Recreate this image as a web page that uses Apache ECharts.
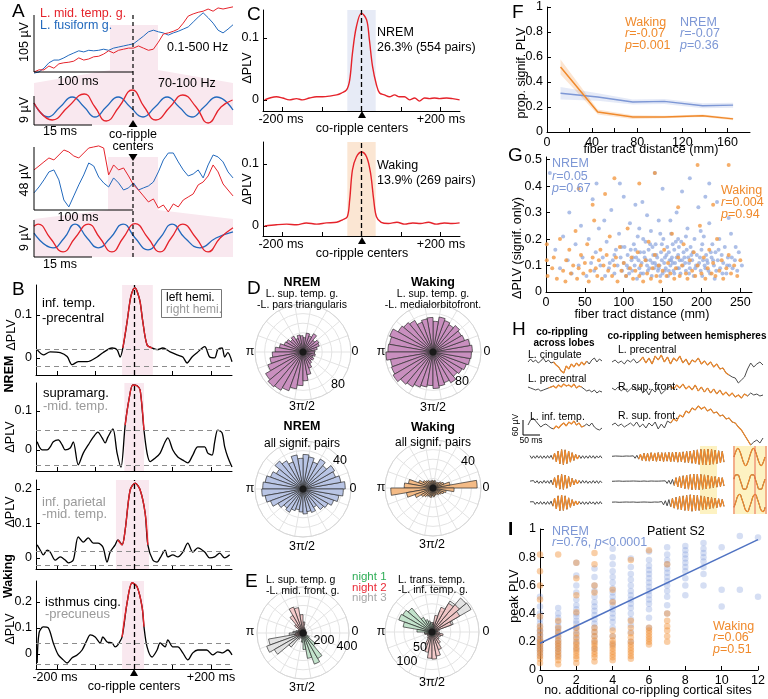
<!DOCTYPE html>
<html lang="en">
<head>
<meta charset="utf-8">
<title>Co-rippling PLV</title>
<script src="https://cdn.jsdelivr.net/npm/echarts@6/dist/echarts.min.js"></script>
<style>html,body{margin:0;padding:0;background:#fff}#main{width:768px;height:699px}</style>
</head>
<body>
<div id="main"></div>
<script type="text/javascript">
// ---------------- data ----------------
// A: broadband traces (uV), 41 samples from -100 to +100 ms
const aTopMid = [0,4,4,11,7,15,17,18,20,26,22,24,28,29,33,39,35,40,42,44,44,48,44,40,42,55,70,72,75,79,90,103,107,110,112,116,112,118,116,118,120];
const aTopFus = [-2,0,7,17,22,22,26,31,35,39,37,40,39,40,42,40,44,46,48,50,52,59,66,74,77,74,72,68,72,75,79,83,92,101,109,100,90,77,72,79,87];
const aBotMid = [30.5,33.5,36.6,39.6,38.1,41.9,45.7,44.2,41.1,39.6,43.4,47.2,48,48.8,47.2,26.7,34.3,30.5,32,25.9,19.1,15.2,10.7,6.1,8.4,1.5,3.8,-1.5,4.6,2.3,7.6,9.9,12.2,19.1,21.3,25.9,34.3,29,19.8,15.2,10.7];
const aBotFus = [13,17.5,22.9,29,30.5,22.9,7.6,2.3,10.7,19.1,26.7,35.8,33.5,25.1,20.6,17.5,24.4,20.6,15.2,16.8,20.6,15.2,16.8,18.3,21.3,29,38.1,43.4,43.4,36.6,30.5,25.9,27.4,30.5,24.4,34.3,41.9,40.4,36.6,29,24.4];
// A: 70-100 Hz filtered traces [ms, uV]
const aRipTopMid = [[-23.9,1.2],[-19.5,-3.9],[-15.7,0],[-11.8,3.9],[-9.2,0],[-6.5,-4.2],[-3.4,0],[-0.2,5.1],[2.7,0],[5.5,-3.9],[8.9,0],[12,3.6],[15.2,0],[18.1,-4.8],[21.2,0],[24,2.1]];
const aRipTopFus = [[-23.9,1.2],[-20.5,-3],[-17.6,0],[-14.7,3],[-11.8,0],[-9.2,-3],[-6.5,0],[-3.6,3],[-0.7,0],[2.4,-3],[5.3,0],[8.2,3],[11.1,0],[14.2,-3],[17.1,0],[20.2,3],[24.1,-0.9]];
const aRipBotMid = [[-23.9,2.9],[-22.9,3.4],[-20,0],[-16.9,-3.4],[-14,0],[-10.8,3.4],[-8,0],[-5.1,-3.4],[-2.4,0],[0.5,3.5],[3.6,0],[6.5,-3.4],[9.2,0],[12,3.4],[15.2,0],[18.1,-3.4],[21,0],[24.1,2.5]];
const aRipBotFus = [[-23.9,1.2],[-19.3,-2.4],[-16.6,0],[-14,3.4],[-11.1,0],[-8.4,-2.4],[-5.5,0],[-2.4,3.4],[0.5,0],[3.6,-2.9],[6.5,0],[9.4,3.4],[12.5,0],[16.1,-2.4],[20,0],[24.1,1.5]];

// B: example pairs, dPLV vs time (ms)
const bInfTemp = [[-252,.019],[-236,.007],[-218,.014],[-192,.012],[-174,.003],[-161,-.016],[-145,-.009],[-122,-.009],[-96,.002],[-81,.012],[-57,.023],[-44,.019],[-36,.002],[-29,.023],[-18,.084],[-9,.14],[-2,.16],[3,.163],[10,.15],[16,.13],[23,.084],[34,.03],[47,.023],[60,.019],[75,.023],[94,.014],[112,.007],[127,.002],[138,-.012],[151,.002],[164,.012],[184,.026],[197,.002],[210,0],[218,.019],[229,.023],[236,.002],[244,.012],[255,-.009]];
const bSupramarg = [[-252,.021],[-239,0],[-226,0],[-218,.008],[-210,.021],[-197,.026],[-187,.013],[-179,0],[-166,.005],[-158,.021],[-145,-.038],[-132,-.008],[-119,.013],[-106,.033],[-94,.046],[-83,.031],[-75,.018],[-68,.033],[-55,.054],[-44,-.008],[-34,-.044],[-23,.064],[-13,.13],[-3,.167],[8,.165],[16,.154],[26,.051],[34,-.008],[42,-.03],[55,-.021],[68,-.008],[81,.021],[88,.031],[101,0],[114,-.018],[127,-.026],[140,-.033],[153,-.013],[166,.008],[184,.008],[192,-.008],[203,-.013],[210,.021],[218,.051],[229,.044],[236,.008],[244,-.018],[255,-.044]];
const bInfPar = [[-252,.038],[-244,.023],[-236,.009],[-226,.023],[-218,.017],[-205,-.006],[-192,.003],[-179,-.006],[-171,-.014],[-158,-.006],[-145,.061],[-132,.046],[-119,.058],[-106,.043],[-94,.043],[-81,.032],[-70,-.012],[-62,.017],[-49,.038],[-42,.052],[-31,.038],[-23,.081],[-10,.197],[3,.217],[16,.197],[29,.13],[36,.038],[49,-.006],[60,-.012],[68,0],[81,.023],[88,.003],[101,.009],[114,.003],[127,.017],[140,.043],[153,.017],[166,.029],[184,.017],[197,0],[210,.003],[223,.014],[236,0],[249,.009]];
const bIsthmus = [[-252,-.035],[-247,.081],[-236,.104],[-223,.1],[-210,.042],[-197,-.004],[-184,-.023],[-174,-.035],[-161,-.015],[-148,-.004],[-135,.015],[-122,.054],[-114,.073],[-101,.065],[-88,.042],[-81,.065],[-70,.046],[-57,.042],[-49,.027],[-42,.035],[-31,.065],[-18,.196],[-5,.273],[8,.258],[21,.181],[26,.104],[34,.027],[47,-.012],[60,.015],[68,.042],[81,.027],[88,.054],[101,.027],[114,.027],[127,.004],[140,-.023],[153,.004],[166,.015],[189,.015],[205,-.004],[218,.008],[231,.004],[244,.015],[255,-.004]];

// C: grand averages
const cNrem = [[-246,0],[-233,.003],[-216,.005],[-200,.003],[-183,0],[-165,.002],[-150,0],[-132,.003],[-114,.005],[-99,.005],[-81,.006],[-63,.008],[-51,.011],[-38,.016],[-30,.032],[-23,.075],[-13,.118],[0,.14],[13,.129],[20,.097],[28,.054],[38,.024],[46,.011],[58,.008],[71,.005],[84,.008],[96,.005],[109,.005],[122,0],[135,.003],[147,-.002],[160,.003],[173,.002],[185,.003],[198,.002],[216,.003],[231,.002],[249,0]];
const cWake = [[-246,0],[-216,.002],[-190,.003],[-165,.002],[-140,.005],[-114,.003],[-89,.005],[-63,.006],[-48,.01],[-36,.015],[-30,.042],[-23,.09],[-13,.111],[0,.119],[13,.111],[23,.085],[31,.042],[38,.015],[50,.006],[68,.004],[90,.006],[110,.003],[130,.005],[150,.004],[170,.006],[190,.003],[210,.005],[230,.004],[249,.005]];

// D/E: phase histograms, 10 degree bins
const phaseBins = ['0','10','20','30','40','50','60','70','80','90','100','110','120','130','140','150','160','170','180','190','200','210','220','230','240','250','260','270','280','290','300','310','320','330','340','350'];
const dNremPair = [25,30,36,38,32,44,36,40,30,34,36,30,38,34,40,42,50,58,64,70,78,90,95,92,86,78,70,60,48,36,28,24,26,22,26,24];
const dWakePair = [82,78,70,68,72,66,70,74,64,72,70,66,76,80,84,96,92,94,98,90,92,96,88,84,78,74,70,76,72,68,74,66,70,74,78,80];
const dNremAll = [44,40,36,38,32,36,30,34,36,32,36,30,34,38,32,36,40,42,43,40,36,30,26,28,24,22,24,26,24,26,22,28,30,34,38,42];
const dWakeAll = [46,18,12,10,8,7,6,8,7,8,7,8,9,10,12,16,26,30,44,28,20,14,12,10,9,10,8,9,8,7,8,9,10,12,14,22];
const eSTG_n3 = [30,25,20,25,30,20,25,30,35,30,25,30,35,40,50,60,80,110,150,380,420,360,200,80,40,30,25,20,25,30,20,25,30,20,25,30];
const eSTG_n2 = [40,35,30,40,35,45,50,60,120,200,280,300,220,120,60,50,45,60,80,90,70,50,40,35,30,40,35,30,40,35,30,35,40,30,35,40];
const eSTG_n1 = [30,25,30,35,30,25,30,35,30,25,30,35,30,25,30,35,30,25,30,35,30,25,30,35,40,60,100,180,280,360,320,180,80,40,30,25];
const eTT_n3 = [8,12,60,120,118,95,60,25,10,6,5,5,5,5,5,5,5,5,5,5,5,5,5,5,5,5,5,5,5,5,5,5,5,5,5,6];
const eTT_n2 = [15,20,55,85,95,88,70,45,25,15,10,10,10,10,10,10,10,15,20,20,15,15,15,20,35,55,70,72,65,50,35,25,20,25,30,20];
const eTT_n1 = [10,10,10,10,10,10,10,15,20,25,30,35,45,83,90,94,78,40,20,12,10,10,10,10,10,10,10,10,10,10,10,10,10,10,10,10];

// F: proportion significant vs fiber distance
const fDist = [12,45,76,104,138,165];
const fNrem = [0.31,0.28,0.24,0.245,0.21,0.215];
const fNremCI = [0.05,0.03,0.02,0.02,0.02,0.02];
const fWake = [0.52,0.16,0.12,0.12,0.13,0.105];
const fWakeCI = [0.06,0.02,0.015,0.01,0.01,0.01];

// G: dPLV of significant pairs vs distance
const gNrem = [[12,0.16],[18,0.09],[22,0.21],[28,0.12],[33,0.07],[38,0.18],[42,0.1],[47,0.13],[52,0.06],[55,0.2],[58,0.11],[62,0.08],[64,0.15],[68,0.24],[70,0.1],[73,0.13],[76,0.06],[78,0.19],[81,0.09],[84,0.31],[86,0.12],[88,0.07],[90,0.16],[92,0.1],[94,0.22],[96,0.13],[98,0.08],[100,0.11],[101,0.17],[103,0.06],[105,0.14],[106,0.09],[108,0.26],[110,0.12],[111,0.08],[113,0.18],[114,0.1],[116,0.13],[117,0.05],[118,0.21],[120,0.09],[121,0.15],[123,0.11],[124,0.34],[125,0.07],[127,0.13],[128,0.19],[130,0.1],[131,0.08],[132,0.16],[134,0.12],[135,0.23],[136,0.06],[138,0.14],[139,0.09],[140,0.11],[141,0.18],[143,0.13],[144,0.08],[145,0.27],[146,0.1],[148,0.15],[149,0.12],[150,0.07],[151,0.2],[152,0.11],[154,0.09],[155,0.14],[156,0.17],[157,0.06],[159,0.12],[160,0.1],[161,0.22],[162,0.13],[164,0.08],[165,0.16],[166,0.11],[168,0.3],[169,0.09],[170,0.14],[172,0.12],[173,0.07],[174,0.19],[176,0.1],[177,0.15],[179,0.11],[180,0.08],[182,0.24],[183,0.13],[185,0.09],[186,0.17],[188,0.12],[190,0.06],[191,0.2],[193,0.1],[194,0.14],[196,0.32],[197,0.11],[199,0.08],[200,0.16],[202,0.12],[203,0.21],[205,0.09],[206,0.14],[208,0.11],[210,0.26],[211,0.07],[213,0.13],[214,0.18],[216,0.1],[218,0.15],[219,0.08],[221,0.12],[223,0.2],[224,0.09],[226,0.14],[228,0.11],[230,0.17],[232,0.07],[234,0.13],[236,0.1],[238,0.22],[240,0.09],[243,0.12],[246,0.08],[248,0.15],[252,0.1],[60,0.35],[95,0.41],[140,0.45],[175,0.38],[205,0.36],[130,0.29],[160,0.27],[115,0.33],[185,0.43],[220,0.34],[75,0.27],[45,0.25],[30,0.3],[150,0.39],[100,0.36],[210,0.41],[235,0.28],[120,0.24],[170,0.2],[5,0.45],[65,0.41],[107,0.07],[119,0.12],[126,0.15],[133,0.09],[137,0.17],[142,0.1],[147,0.06],[153,0.13],[158,0.08],[163,0.11],[167,0.19],[171,0.09],[178,0.13],[184,0.07],[189,0.15],[195,0.1],[201,0.06],[207,0.12],[212,0.15],[217,0.05],[104,0.1],[109,0.16],[112,0.13],[122,0.07],[129,0.12],[134,0.18],[137,0.11],[142,0.14],[145,0.09],[149,0.18],[153,0.08],[158,0.15],[161,0.12],[165,0.07],[168,0.13],[171,0.17],[175,0.12],[181,0.16],[184,0.11],[187,0.14],[192,0.09],[198,0.13],[201,0.18],[204,0.1],[209,0.08],[215,0.12],[222,0.16],[227,0.07],[233,0.1],[239,0.13],[125,0.2],[147,0.22],[163,0.18],[180,0.21],[199,0.23],[88,0.14],[82,0.11],[97,0.17],[115,0.16],[244,0.17]];
const gWake = [[1,0.12],[1,0.18],[2,0.06],[8,0.09],[10,0.13],[14,0.05],[18,0.2],[22,0.08],[25,0.04],[26,0.12],[30,0.16],[32,0.07],[35,0.1],[38,0.23],[40,0.05],[42,0.09],[45,0.14],[48,0.07],[50,0.11],[53,0.18],[55,0.04],[57,0.08],[60,0.13],[62,0.27],[64,0.09],[66,0.06],[68,0.12],[70,0.16],[72,0.05],[74,0.1],[76,0.37],[78,0.14],[80,0.08],[82,0.21],[85,0.06],[88,0.1],[90,0.13],[92,0.04],[95,0.17],[97,0.08],[100,0.11],[103,0.06],[105,0.24],[108,0.09],[110,0.13],[112,0.05],[115,0.08],[118,0.15],[120,0.06],[122,0.1],[125,0.04],[128,0.12],[130,0.07],[132,0.19],[135,0.05],[137,0.09],[140,0.14],[142,0.06],[145,0.1],[147,0.04],[150,0.08],[152,0.16],[155,0.06],[157,0.11],[160,0.07],[162,0.22],[165,0.05],[167,0.09],[170,0.13],[172,0.06],[175,0.1],[177,0.18],[180,0.07],[182,0.05],[185,0.12],[188,0.08],[190,0.15],[192,0.06],[195,0.1],[198,0.25],[200,0.07],[203,0.13],[205,0.05],[208,0.09],[210,0.16],[213,0.07],[215,0.11],[218,0.06],[220,0.2],[223,0.08],[226,0.12],[228,0.05],[232,0.09],[235,0.14],[238,0.07],[242,0.1],[246,0.06],[250,0.12],[88,0.43],[120,0.41],[140,0.45],[195,0.48],[235,0.48],[170,0.32],[60,0.33],[215,0.33],[42,0.39]];

// H: example traces (uV) and ripple-band traces, with co-ripple index ranges
const hLeft1 = [0,9,0,6,-3,3,12,0,6,-3,0,-9,-15,-27,-33,-12,-21,-6,-15,-3,-12,0,-9,3,-6,6,12,0,9,3];
const hLeft2 = [3,0,-3,-6,-3,-9,-6,-3,0,3,6,0,9,3,12,6,9,3,12,0,6,3,-3,-9,-6,-12,-6,-15,-9,-12];
const hLeft3 = [0,15,21,12,3,-6,0,3,-3,-9,-12,-3,-9,0,6,-3,9,3,12,0,6,-6,-3,3,-3,6,-6,-12,-15,-9];
const hRight1 = [0,6,-3,3,-6,6,0,9,-3,3,15,-3,12,-6,18,6,21,0,15,-6,12,3,18,-3,9,-9,6,0,12,-6,3,-9,0,-15,-6,-21,-18,-33,-39,-45,-48,-63,-54,-45,-21,-3,-15,-6,0,-9];
const hRight2 = [6,0,9,-3,6,-6,3,12,-3,9,-9,0,-15,3,-6,9,-12,-3,6,12,3,15,6,18,3,12,0,15,-3,9,-6,6,-9,3,-12,0,-15,-6,-18,-9,-21,-15,-24,-12,-18,-9,-15,-12,-18,-15];
const hRight3 = [0,6,-3,3,-6,0,6,-3,9,-6,3,-9,6,-3,9,-12,3,-9,12,6,18,12,30,24,42,36,51,45,57,48,54,42,48,36,39,27,30,18,21,9,6,-6,-15,-30,-45,-60,-51,-45,-54,-39];
const fL1 = [1,-1,0.8,-0.9,1,-0.8,0.9,-1,0.8,-0.9,1,-0.8,1.2,-1.6,2.6,-3.4,4.2,-4.8,5.2,-5.4,5,-4.6,4.2,-3.6,3,-2.4,1.8,-1.4,1.1,-1,0.9,-1,0.8,-0.9,1,-0.8,0.9,-1,0.8,-0.7,0.9,-0.8];
const fL2 = [0.6,-0.8,1,-0.7,0.9,-1,0.7,-0.9,1.1,-0.8,0.9,-1,1.4,-2,3,-3.8,4.6,-5,5.4,-5.2,4.8,-4.4,3.8,-3.2,2.6,-2,1.6,-1.2,1,-0.9,1.1,-0.8,0.9,-1,0.7,-0.9,1,-0.8,0.9,-1,0.8,-0.6];
const fL3 = [0.8,-0.6,0.9,-1,0.7,-0.8,1,-0.9,0.8,-1,1,-0.9,1.3,-2.2,3.4,-4.2,5,-5.4,5.6,-5.2,5,-4.4,3.6,-3,2.4,-1.8,1.4,-1.2,1,-0.8,0.9,-1,0.8,-0.9,1,-0.7,0.8,-1,0.9,-0.8,1,-0.7];
const fR1 = [0.5,-0.6,0.7,-0.5,0.6,-0.7,0.5,-0.6,0.7,-0.5,0.6,-0.6,0.8,-0.9,1.2,-1.5,2,-2.4,2.6,-2.8,2.6,-2.9,3,-2.7,2.8,-3,3.1,-2.8,3,-3.2,3,-2.9,3.2,-3.4,3.3,-3.1,3.4,-3.6,3.5,-3.3,3.6,-3.8,3.9,-4,4.2,-4.4,4.6,-4.8,5,-5.2,5.4,-5.5,5.6,-5.6,5.5,-5.4,5.3,-5,4.8,-4.6,4.4,-4.2,4,-3.6];
const fR2 = [0.5,-0.6,0.6,-0.5,0.7,-0.6,0.5,-0.7,0.6,-0.5,0.6,-0.6,0.7,-0.5,0.6,-0.7,0.5,-0.6,0.7,-0.6,0.5,-0.6,0.7,-0.5,0.6,-0.7,0.6,-0.5,0.7,-0.6,0.8,-1,1.2,-1.5,1.8,-2.4,3,-3.4,3.8,-4.2,4.4,-4.6,4.8,-5,5.2,-5.4,5.6,-5.6,5.5,-5.4,5.3,-5.1,5,-4.8,4.6,-4.4,4.2,-4,3.8,-3.6,3.4,-3.2,3,-2.8];
const fR3 = [0.6,-0.5,0.7,-0.6,0.5,-0.7,0.6,-0.5,0.7,-0.6,0.6,-0.5,0.7,-0.6,0.5,-0.7,0.6,-0.6,0.7,-0.5,0.6,-0.7,0.5,-0.6,0.7,-0.6,0.6,-0.8,1,-1.3,1.6,-2,2.4,-2.8,3.2,-3.6,4,-4.4,4.6,-4.8,5,-5.2,5.4,-5.6,5.8,-5.8,5.6,-5.5,5.4,-5.2,5,-4.8,4.6,-4.4,4.2,-4,3.8,-3.6,3.4,-3.2,3,-2.8,2.6,-2.4];
const fBox1 = [0,4,6,4,0,-4,-6,-4,0,4,6,4,0,-4,-6,-4,0];
const fBox2 = [2,5,5,2,-2,-5,-5,-2,2,5,5,2,-2,-5,-5,-2,2];
const fBox3 = [-3,1,5,6,3,-1,-5,-6,-3,1,5,6,3,-1,-5,-6,-3];

// I: peak PLV per number of additional co-rippling sites (index = sites)
const iNremCols = [
  [0.1,0.12,0.14,0.15,0.17,0.18,0.2,0.21,0.22,0.24,0.25,0.27,0.28,0.3,0.33,0.36,0.4,0.45,0.52],
  [0.1,0.13,0.15,0.17,0.19,0.21,0.23,0.25,0.27,0.29,0.31,0.34,0.37,0.4,0.44],
  [0.15,0.19,0.22,0.25,0.28,0.3,0.33,0.35,0.38,0.4,0.43,0.46,0.5,0.55,0.6,0.67,0.76],
  [0.15,0.2,0.24,0.27,0.3,0.33,0.36,0.39,0.42,0.45,0.48,0.52,0.56,0.6,0.66,0.72],
  [0.18,0.24,0.3,0.34,0.37,0.4,0.43,0.46,0.49,0.52,0.55,0.58,0.62,0.66,0.7,0.75,0.8,0.86],
  [0.2,0.27,0.32,0.36,0.4,0.44,0.47,0.5,0.53,0.56,0.6,0.64,0.68,0.73,0.79],
  [0.3,0.37,0.43,0.47,0.5,0.53,0.56,0.59,0.62,0.65,0.68,0.71,0.74,0.78,0.84],
  [0.4,0.46,0.52,0.56,0.6,0.63,0.66,0.69,0.72,0.75,0.78,0.82,0.87],
  [0.53,0.6,0.65,0.7,0.73,0.76,0.79,0.82,0.85,0.88],
  [0.6,0.68,0.73,0.77,0.8,0.83,0.86,0.9],
  [0.45,0.57,0.87],
  [0.57,0.95],
  [0.52,0.94]
];
const iWakeCols = [
  [0.05,0.08,0.1,0.12,0.14,0.16,0.18,0.2,0.22,0.25,0.28,0.31,0.38,0.5,0.6,0.7,0.82],
  [0.04,0.07,0.09,0.11,0.13,0.15,0.17,0.19,0.21,0.24,0.27,0.3,0.35,0.82],
  [0.05,0.08,0.1,0.12,0.14,0.16,0.18,0.2,0.23,0.26,0.3,0.41,0.53,0.65,0.76],
  [0.06,0.09,0.11,0.13,0.15,0.17,0.19,0.21,0.24,0.27,0.3,0.55,0.6,0.75,0.83],
  [0.07,0.09,0.11,0.13,0.15,0.17,0.19,0.21,0.24,0.28,0.48,0.57],
  [0.08,0.1,0.12,0.14,0.16,0.18,0.2,0.23,0.26,0.3,0.35,0.78],
  [0.18,0.2,0.22,0.24,0.26,0.28,0.3,0.85],
  [0.2,0.24,0.28,0.31,0.35,0.4,0.75]
];
const iNremFit = [[0,0.19],[12,0.925]];

// ---------------- build ----------------
const FONT = '"Liberation Sans", Arial, Helvetica, sans-serif';
const RED = '#e5232b', BLUE = '#2269bd', PINK = '#f9e8ef', ORANGE = '#f08a2c', LBLUE = '#7d97d5', TGRAY = '#9a9a9a';

let grids = [], xAxes = [], yAxes = [], series = [], polars = [], angleAxes = [], radiusAxes = [], gfx = [];

function addGrid(left, top, width, height, xa, ya) {
    const i = grids.length;
    grids.push({left: left, top: top, width: width, height: height});
    xAxes.push(Object.assign({gridIndex: i}, xa));
    yAxes.push(Object.assign({gridIndex: i}, ya));
    return i;
}
function hid(min, max) { return {type: 'value', show: false, min: min, max: max}; }
function axV(min, max, ticks, labels) {
    return {
        type: 'value', min: min, max: max,
        axisLine: {show: true, onZero: false, lineStyle: {color: '#000', width: 1}},
        axisTick: ticks ? {show: true, inside: true, length: 4, customValues: ticks, lineStyle: {color: '#000'}} : {show: false},
        axisLabel: labels ? {show: true, customValues: labels, color: '#000', fontSize: 12.5, fontFamily: FONT, margin: 4} : {show: false},
        splitLine: {show: false}
    };
}
function addLine(gi, data, color, w, extra) {
    series.push(Object.assign({type: 'line', xAxisIndex: gi, yAxisIndex: gi, data: data, symbol: 'none',
        lineStyle: {color: color, width: w}, silent: true, clip: false, z: 3}, extra || {}));
}
const idx = arr => arr.map((v, i) => [i, v]);

function T(x, y, s, o) {
    o = o || {};
    const size = o.size || 12.5, col = o.fill || '#000', al = o.align || 'left';
    const st = {text: s, fill: col, font: (o.bold ? 'bold ' : '') + size + 'px ' + FONT,
        align: al, verticalAlign: 'middle', textAlign: al, textVerticalAlign: 'middle'};
    if (s.indexOf('{i|') >= 0) st.rich = {i: {fontStyle: 'italic', fontSize: size, fontFamily: FONT, fill: col}};
    gfx.push({type: 'text', x: x, y: y, rotation: o.rot || 0, z: 50, silent: true, style: st});
}
function V(x, y, s, o) { T(x, y, s, Object.assign({align: 'center', rot: Math.PI / 2}, o || {})); }
function L(x1, y1, x2, y2, o) {
    o = o || {};
    gfx.push({type: 'line', z: o.z || 5, silent: true, shape: {x1: x1, y1: y1, x2: x2, y2: y2},
        style: {stroke: o.color || '#000', lineWidth: o.w || 1, lineDash: o.dash || null}});
}
function P(points, fill, z) { gfx.push({type: 'polygon', z: z || 0, silent: true, shape: {points: points}, style: {fill: fill}}); }

// ---- A ----
P([[110,25],[158,25],[158,70],[233,83],[233,125],[34,125],[34,83],[110,70]], PINK, -1);
P([[108,157],[158,157],[158,210],[233,219],[233,257],[34,257],[34,219],[108,210]], PINK, -1);
const gA1 = addGrid(34, 5, 199, 67, hid(0, 40), hid(0, 123.4));
addLine(gA1, idx(aTopFus), BLUE, 1);
addLine(gA1, idx(aTopMid), RED, 1);
const gA2 = addGrid(34, 86, 199, 40, hid(-23.9, 24.1), hid(-5.7, 6.3));
addLine(gA2, aRipTopFus, BLUE, 1.3, {smooth: 0.5});
addLine(gA2, aRipTopMid, RED, 1.3, {smooth: 0.5});
const gA3 = addGrid(34, 140, 199, 76, hid(0, 40), hid(-4.6, 53.3));
addLine(gA3, idx(aBotFus), BLUE, 1);
addLine(gA3, idx(aBotMid), RED, 1);
const gA4 = addGrid(34, 218, 199, 40, hid(-23.9, 24.1), hid(-4.9, 4.9));
addLine(gA4, aRipBotFus, BLUE, 1.3, {smooth: 0.5});
addLine(gA4, aRipBotMid, RED, 1.3, {smooth: 0.5});
L(34,15,34,72); L(34,72,133,72); L(34,96,34,125); L(34,125,92,125);
L(34,147,34,210); L(34,210,133,210); L(34,220,34,257); L(34,257,92,257);
L(133,15,133,119,{dash:[4,3], w:1.2}); L(133,162,133,260,{dash:[4,3], w:1.2});
P([[133,120],[128.5,127],[137.5,127]], '#000', 5);
P([[128.5,154],[137.5,154],[133,161]], '#000', 5);
T(12,12,'A',{size:19}); T(40,14,'L. mid. temp. g.',{fill:RED}); T(40,26,'L. fusiform g.',{fill:BLUE});
V(25,42,'105 µV'); T(78,82,'100 ms',{align:'center'}); T(167,48,'0.1-500 Hz'); T(158,84,'70-100 Hz');
V(25,110,'9 µV'); T(60,132,'15 ms',{align:'center'});
T(133,135,'co-ripple',{align:'center'}); T(133,147,'centers',{align:'center'});
V(25,180,'48 µV'); T(78,218,'100 ms',{align:'center'}); V(25,238,'9 µV'); T(60,265,'15 ms',{align:'center'});

// ---- B ----
function bPanel(top, height, ymin, ymax, ylabels, trace, lo, hi, thr) {
    const gi = addGrid(36, top, 196, height, axV(-255, 255, [-200,-100,0,100,200], null), axV(ymin, ymax, ylabels, ylabels));
    const dash = {color: '#8c8c8c', type: [5, 4], width: 1};
    series.push({type: 'line', xAxisIndex: gi, yAxisIndex: gi, data: trace, symbol: 'none', smooth: 0.3,
        lineStyle: {color: '#000', width: 1.3}, silent: true, z: 3,
        markArea: {silent: true, itemStyle: {color: PINK}, data: [[{xAxis: lo}, {xAxis: hi}]]},
        markLine: {silent: true, symbol: 'none', label: {show: false}, data: [
            {yAxis: thr[0], lineStyle: dash}, {yAxis: thr[1], lineStyle: dash},
            {xAxis: 0, lineStyle: {color: '#000', type: [5, 3], width: 1.3}}]}});
    series.push({type: 'line', xAxisIndex: gi, yAxisIndex: gi, data: trace.filter(p => p[0] >= lo && p[0] <= hi),
        symbol: 'none', smooth: 0.3, lineStyle: {color: RED, width: 1.4}, silent: true, z: 4});
}
bPanel(285, 90, -0.04, 0.17, [0, 0.1], bInfTemp, -31, 49, [0.021, -0.021]);
bPanel(383, 88, -0.054, 0.172, [0, 0.1], bSupramarg, -25, 26, [0.046, -0.044]);
bPanel(480, 89, -0.032, 0.226, [0, 0.1, 0.2], bInfPar, -47, 39, [0.023, -0.017]);
bPanel(581, 88, -0.058, 0.28, [0, 0.1, 0.2], bIsthmus, -31, 26, [0.038, -0.038]);
T(12,290,'B',{size:19});
V(12,335,'ΔPLV'); V(11,437,'ΔPLV'); V(11,512,'ΔPLV'); V(11,629,'ΔPLV');
V(10,374,'NREM',{bold:true}); V(9,576,'Waking',{bold:true});
T(42,303,'inf. temp.',{size:13}); T(42,318,'-precentral',{size:13});
T(43,393,'supramarg.',{size:13}); T(43,406,'-mid. temp.',{size:13, fill:TGRAY});
T(42,502,'inf. parietal',{size:13, fill:TGRAY}); T(42,514,'-mid. temp.',{size:13, fill:TGRAY});
T(45,602,'isthmus cing.',{size:13}); T(45,614,'-precuneus',{size:13, fill:TGRAY});
gfx.push({type:'rect', z:6, silent:true, shape:{x:161.5, y:289.5, width:60, height:28}, style:{fill:'#fff', stroke:'#777', lineWidth:1}});
T(166,298,'left hemi.',{size:12}); T(166,310,'right hemi.',{size:12, fill:TGRAY});
gfx[gfx.length-1].z = 51; gfx[gfx.length-2].z = 51;
T(55,678,'-200 ms',{align:'center'}); T(211,678,'+200 ms',{align:'center'});
T(134,687,'co-ripple centers',{align:'center'});
P([[134,669],[130,676],[138,676]], '#000', 5);

// ---- C ----
function cPanel(top, height, ymin, ymax, trace, shade) {
    const gi = addGrid(263, top, 197, height, axV(-250, 250, [-200,-100,0,100,200], null), axV(ymin, ymax, [0, 0.1], [0, 0.1]));
    series.push({type: 'line', xAxisIndex: gi, yAxisIndex: gi, data: trace, symbol: 'none', smooth: 0.35,
        lineStyle: {color: RED, width: 1.4}, silent: true, z: 3,
        markArea: {silent: true, itemStyle: {color: shade}, data: [[{xAxis: -36}, {xAxis: 36}]]},
        markLine: {silent: true, symbol: 'none', label: {show: false},
            data: [{xAxis: 0, lineStyle: {color: '#000', type: [5, 3], width: 1.3}}]}});
}
cPanel(10, 101, -0.018, 0.145, cNrem, '#e7ebf6');
cPanel(142, 94, -0.016, 0.135, cWake, '#fbe6d3');
T(247,15,'C',{size:19});
V(248,68,'ΔPLV'); V(248,189,'ΔPLV');
T(377,33,'NREM'); T(377,48,'26.3% (554 pairs)');
T(377,166,'Waking'); T(377,181,'13.9% (269 pairs)');
T(281,120,'-200 ms',{align:'center'}); T(441,120,'+200 ms',{align:'center'}); T(362,129,'co-ripple centers',{align:'center'});
T(281,245,'-200 ms',{align:'center'}); T(441,245,'+200 ms',{align:'center'}); T(362,254,'co-ripple centers',{align:'center'});
P([[362,111],[358,118],[366,118]], '#000', 5);
P([[362,237],[358,244],[366,244]], '#000', 5);

// ---- D / E polar histograms ----
function addPolar(cx, cy, r, max, step) {
    const i = polars.length;
    polars.push({center: [cx, cy], radius: r});
    angleAxes.push({polarIndex: i, type: 'category', data: phaseBins, startAngle: 0, clockwise: false, boundaryGap: true,
        axisLine: {show: true, lineStyle: {color: '#d6d6d6'}}, axisTick: {show: false}, axisLabel: {show: false},
        splitLine: {show: true, interval: 2, lineStyle: {color: '#e3e3e3', width: 1}}});
    radiusAxes.push({polarIndex: i, type: 'value', min: 0, max: max, interval: step,
        axisLine: {show: false}, axisTick: {show: false}, axisLabel: {show: false},
        splitLine: {show: true, lineStyle: {color: '#e3e3e3', width: 1}}});
    gfx.push({type: 'circle', z: 60, silent: true, shape: {cx: cx, cy: cy, r: 3.5}, style: {fill: '#1a1a1a'}});
    return i;
}
function rose(pi, vals, color) {
    series.push({type: 'bar', coordinateSystem: 'polar', polarIndex: pi, data: vals, barCategoryGap: '0%', barGap: '-100%',
        itemStyle: {color: color, borderColor: '#2e2e2e', borderWidth: 0.7}, silent: true, z: 3});
}
rose(addPolar(303, 352, 48, 100, 20), dNremPair, '#c98fbf');
rose(addPolar(433, 352, 48, 100, 20), dWakePair, '#c98fbf');
rose(addPolar(303, 489, 48, 50, 10), dNremAll, '#b9c5e5');
rose(addPolar(433, 488, 48, 50, 10), dWakeAll, '#f4bb86');
const pE1 = addPolar(303, 633, 46, 500, 100);
rose(pE1, eSTG_n3, 'rgba(222,222,222,0.85)'); rose(pE1, eSTG_n2, 'rgba(242,190,190,0.8)'); rose(pE1, eSTG_n1, 'rgba(185,222,195,0.85)');
const pE2 = addPolar(432, 632, 47, 125, 25);
rose(pE2, eTT_n3, 'rgba(222,222,222,0.85)'); rose(pE2, eTT_n2, 'rgba(242,190,190,0.8)'); rose(pE2, eTT_n1, 'rgba(185,222,195,0.85)');

T(247,289,'D',{size:19});
T(302,283,'NREM',{bold:true, align:'center'}); T(302,294,'L. sup. temp. g.',{size:10.5, align:'center'}); T(302,305,'-L. pars triangularis',{size:10.5, align:'center'});
T(433,283,'Waking',{bold:true, align:'center'}); T(433,294,'L. sup. temp. g.',{size:10.5, align:'center'}); T(433,305,'-L. medialorbitofront.',{size:10.5, align:'center'});
T(250,352,'π',{align:'center'}); T(355,352,'0',{align:'center'}); T(338,385,'80',{align:'center'}); T(302,407,'3π/2',{align:'center'});
T(381,352,'π',{align:'center'}); T(487,352,'0',{align:'center'}); T(462,382,'80',{align:'center'}); T(433,408,'3π/2',{align:'center'});
T(302,427,'NREM',{bold:true, align:'center'}); T(302,444,'all signif. pairs',{size:12, align:'center'});
T(433,428,'Waking',{bold:true, align:'center'}); T(433,443,'all signif. pairs',{size:12, align:'center'});
T(250,489,'π',{align:'center'}); T(353,489,'0',{align:'center'}); T(340,461,'40',{align:'center'}); T(302,547,'3π/2',{align:'center'});
T(381,488,'π',{align:'center'}); T(486,488,'0',{align:'center'}); T(468,462,'40',{align:'center'}); T(432,545,'3π/2',{align:'center'});
T(245,582,'E',{size:19});
T(266,580,'L. sup. temp. g',{size:10.5}); T(266,591,'-L. mid. front. g.',{size:10.5});
T(352,577,'night 1',{size:11.5, fill:'#2fae57'}); T(352,588,'night 2',{size:11.5, fill:'#ea2a36'}); T(352,598,'night 3',{size:11.5, fill:'#a8a8a8'});
T(250,632,'π',{align:'center'}); T(355,632,'0',{align:'center'}); T(324,641,'200',{align:'center'}); T(347,647,'400',{align:'center'}); T(302,688,'3π/2',{align:'center'});
T(398,580,'L. trans. temp.',{size:10.5}); T(398,590,'-L. inf. temp. g.',{size:10.5});
T(381,632,'π',{align:'center'}); T(486,632,'0',{align:'center'}); T(420,648,'50',{align:'center'}); T(407,662,'100',{align:'center'}); T(432,683,'3π/2',{align:'center'});

// ---- F ----
const gF = addGrid(547, 7, 203, 125, axV(0, 180, [0,20,40,60,80,100,120,140,160], [0,40,80,120,160]), axV(0, 1, [0,0.2,0.4,0.6,0.8,1], [0,0.2,0.4,0.6,0.8,1]));
// confidence band drawn as one polygon through the axis scales
function band(gi, xs, mid, ci, color) {
    series.push({type: 'custom', xAxisIndex: gi, yAxisIndex: gi, data: [[xs[0], mid[0]]], silent: true, z: 2,
        renderItem: function (params, api) {
            const up = xs.map((x, i) => api.coord([x, mid[i] + ci[i]]));
            const lo = xs.map((x, i) => api.coord([x, mid[i] - ci[i]])).reverse();
            return {type: 'polygon', shape: {points: up.concat(lo)}, style: {fill: color}};
        }});
}
band(gF, fDist, fNrem, fNremCI, 'rgba(125,151,213,0.2)');
band(gF, fDist, fWake, fWakeCI, 'rgba(240,138,44,0.22)');
addLine(gF, fDist.map((x, i) => [x, fNrem[i]]), LBLUE, 1.5, {clip: true});
addLine(gF, fDist.map((x, i) => [x, fWake[i]]), ORANGE, 1.5, {clip: true});
T(512,13,'F',{size:19});
T(625,23,'Waking',{fill:ORANGE}); T(625,34,'{i|r}=-0.07',{fill:ORANGE}); T(625,46,'{i|p}=0.001',{fill:ORANGE});
T(680,23,'NREM',{fill:LBLUE}); T(680,34,'{i|r}=-0.07',{fill:LBLUE}); T(680,46,'{i|p}=0.36',{fill:LBLUE});
V(522,73,'prop. signif. PLV'); T(651,150,'fiber tract distance (mm)',{align:'center'});

// ---- G ----
const gG = addGrid(546, 157, 206, 135, axV(0, 265, [0,50,100,150,200,250], [0,50,100,150,200,250]), axV(0, 0.51, [0,0.1,0.2,0.3,0.4,0.5], [0,0.1,0.2,0.3,0.4,0.5]));
series.push({type: 'scatter', xAxisIndex: gG, yAxisIndex: gG, data: gNrem, symbolSize: 4, itemStyle: {color: '#92a9df', opacity: 0.75}, silent: true, z: 3});
series.push({type: 'scatter', xAxisIndex: gG, yAxisIndex: gG, data: gWake, symbolSize: 4, itemStyle: {color: '#f39a45', opacity: 0.8}, silent: true, z: 3});
T(508,156,'G',{size:19});
T(552,164,'NREM',{fill:LBLUE}); T(552,177,'{i|r}=0.05',{fill:LBLUE}); T(552,189,'{i|p}=0.67',{fill:LBLUE});
T(721,191,'Waking',{fill:ORANGE}); T(721,203,'{i|r}=0.004',{fill:ORANGE}); T(721,215,'{i|p}=0.94',{fill:ORANGE});
V(518,248,'ΔPLV (signif. only)'); T(642,315,'fiber tract distance (mm)',{align:'center'});

// ---- H ----
const GR = '#4a4a4a';
function hTrace(left, top, w, h, ymin, ymax, vals, seg, smooth) {
    const gi = addGrid(left, top, w, h, hid(0, vals.length - 1), hid(ymin, ymax));
    const d = idx(vals);
    addLine(gi, d, GR, 1, {smooth: smooth || 0});
    addLine(gi, d.slice(seg[0], seg[1] + 1), ORANGE, 1.2, {smooth: smooth || 0, z: 4});
}
gfx.push({type:'rect', z:-1, silent:true, shape:{x:700, y:446, width:17, height:68}, style:{fill:'#fdf2c2'}});
gfx.push({type:'rect', z:-1, silent:true, shape:{x:733, y:446, width:34, height:68}, style:{fill:'#fdf2c2'}});
L(734,446,734,514,{color:'#ea6a55'}); L(755,446,755,514,{color:'#ea6a55'}); L(766,446,766,514,{color:'#ea6a55'});
hTrace(528, 350, 74, 28, -48, 36, hLeft1, [10, 23]);
hTrace(528, 378, 74, 20, -30, 30, hLeft2, [8, 21]);
hTrace(528, 412, 74, 28, -45, 39, hLeft3, [10, 22]);
hTrace(612, 342, 151, 50, -90, 60, hRight1, [9, 38]);
hTrace(612, 375, 151, 30, -45, 45, hRight2, [19, 44]);
hTrace(612, 400, 151, 50, -75, 75, hRight3, [19, 45]);
hTrace(530, 447, 72, 20, -7, 7, fL1, [13, 28]);
hTrace(530, 472, 72, 20, -7, 7, fL2, [13, 28]);
hTrace(530, 493, 72, 20, -7, 7, fL3, [13, 28]);
hTrace(612, 447, 112, 20, -7, 7, fR1, [15, 63]);
hTrace(612, 472, 112, 20, -7, 7, fR2, [35, 63]);
hTrace(612, 493, 112, 20, -7, 7, fR3, [33, 63]);
hTrace(734, 447, 31, 20, -7, 7, fBox1, [0, 16], 0.5);
hTrace(734, 472, 31, 20, -7, 7, fBox2, [0, 16], 0.5);
hTrace(734, 493, 31, 20, -7, 7, fBox3, [0, 16], 0.5);
T(512,330,'H',{size:19});
T(562,332,'co-rippling',{bold:true, size:10, align:'center'}); T(564,343,'across lobes',{bold:true, size:10, align:'center'});
T(687,336,'co-rippling between hemispheres',{bold:true, size:10, align:'center'});
T(528,355,'L. cingulate',{size:10.5}); T(528,379,'L. precentral',{size:10.5}); T(530,417,'L. inf. temp.',{size:10.5});
T(618,350,'L. precentral',{size:10.5}); T(618,387,'R. sup. front.',{size:10.5}); T(618,416,'R. sup. front.',{size:10.5});
L(523,420,523,435); L(523,435,540,435);
V(516,425,'60 µV',{size:8.5}); T(531,441,'50 ms',{size:8.5, align:'center'});

// ---- I ----
const gI = addGrid(540, 529, 218, 141, axV(0, 12, [0,2,4,6,8,10,12], [0,2,4,6,8,10,12]), axV(0, 1, [0,0.2,0.4,0.6,0.8,1], [0,0.2,0.4,0.6,0.8,1]));
const iNrem = iNremCols.flatMap((ys, x) => ys.map(y => [x, y]));
const iWake = iWakeCols.flatMap((ys, x) => ys.map(y => [x, y]));
series.push({type: 'scatter', xAxisIndex: gI, yAxisIndex: gI, data: iNrem, symbolSize: 6.5, itemStyle: {color: '#7593d6', opacity: 0.3}, silent: true, z: 3});
series.push({type: 'scatter', xAxisIndex: gI, yAxisIndex: gI, data: iWake, symbolSize: 6.5, itemStyle: {color: '#f08a2c', opacity: 0.42}, silent: true, z: 3});
addLine(gI, iNremFit, '#4f72c2', 1.5, {z: 5});
T(508,530,'I',{size:19, bold:true});
T(552,532,'NREM',{fill:LBLUE}); T(552,543,'{i|r}=0.76, {i|p}<0.0001',{fill:LBLUE}); T(647,532,'Patient S2');
T(713,627,'Waking',{fill:ORANGE}); T(713,638,'{i|r}=0.06',{fill:ORANGE}); T(713,650,'{i|p}=0.51',{fill:ORANGE});
V(515,596,'peak PLV'); T(648,691,'no. additional co-rippling cortical sites',{align:'center'});

// ---------------- render ----------------
const chart = echarts.init(document.getElementById('main'), null, {renderer: 'canvas'});
chart.setOption({
    animation: false,
    textStyle: {fontFamily: FONT},
    grid: grids, xAxis: xAxes, yAxis: yAxes,
    polar: polars, angleAxis: angleAxes, radiusAxis: radiusAxes,
    series: series,
    graphic: {elements: gfx}
});
</script>
</body>
</html>
